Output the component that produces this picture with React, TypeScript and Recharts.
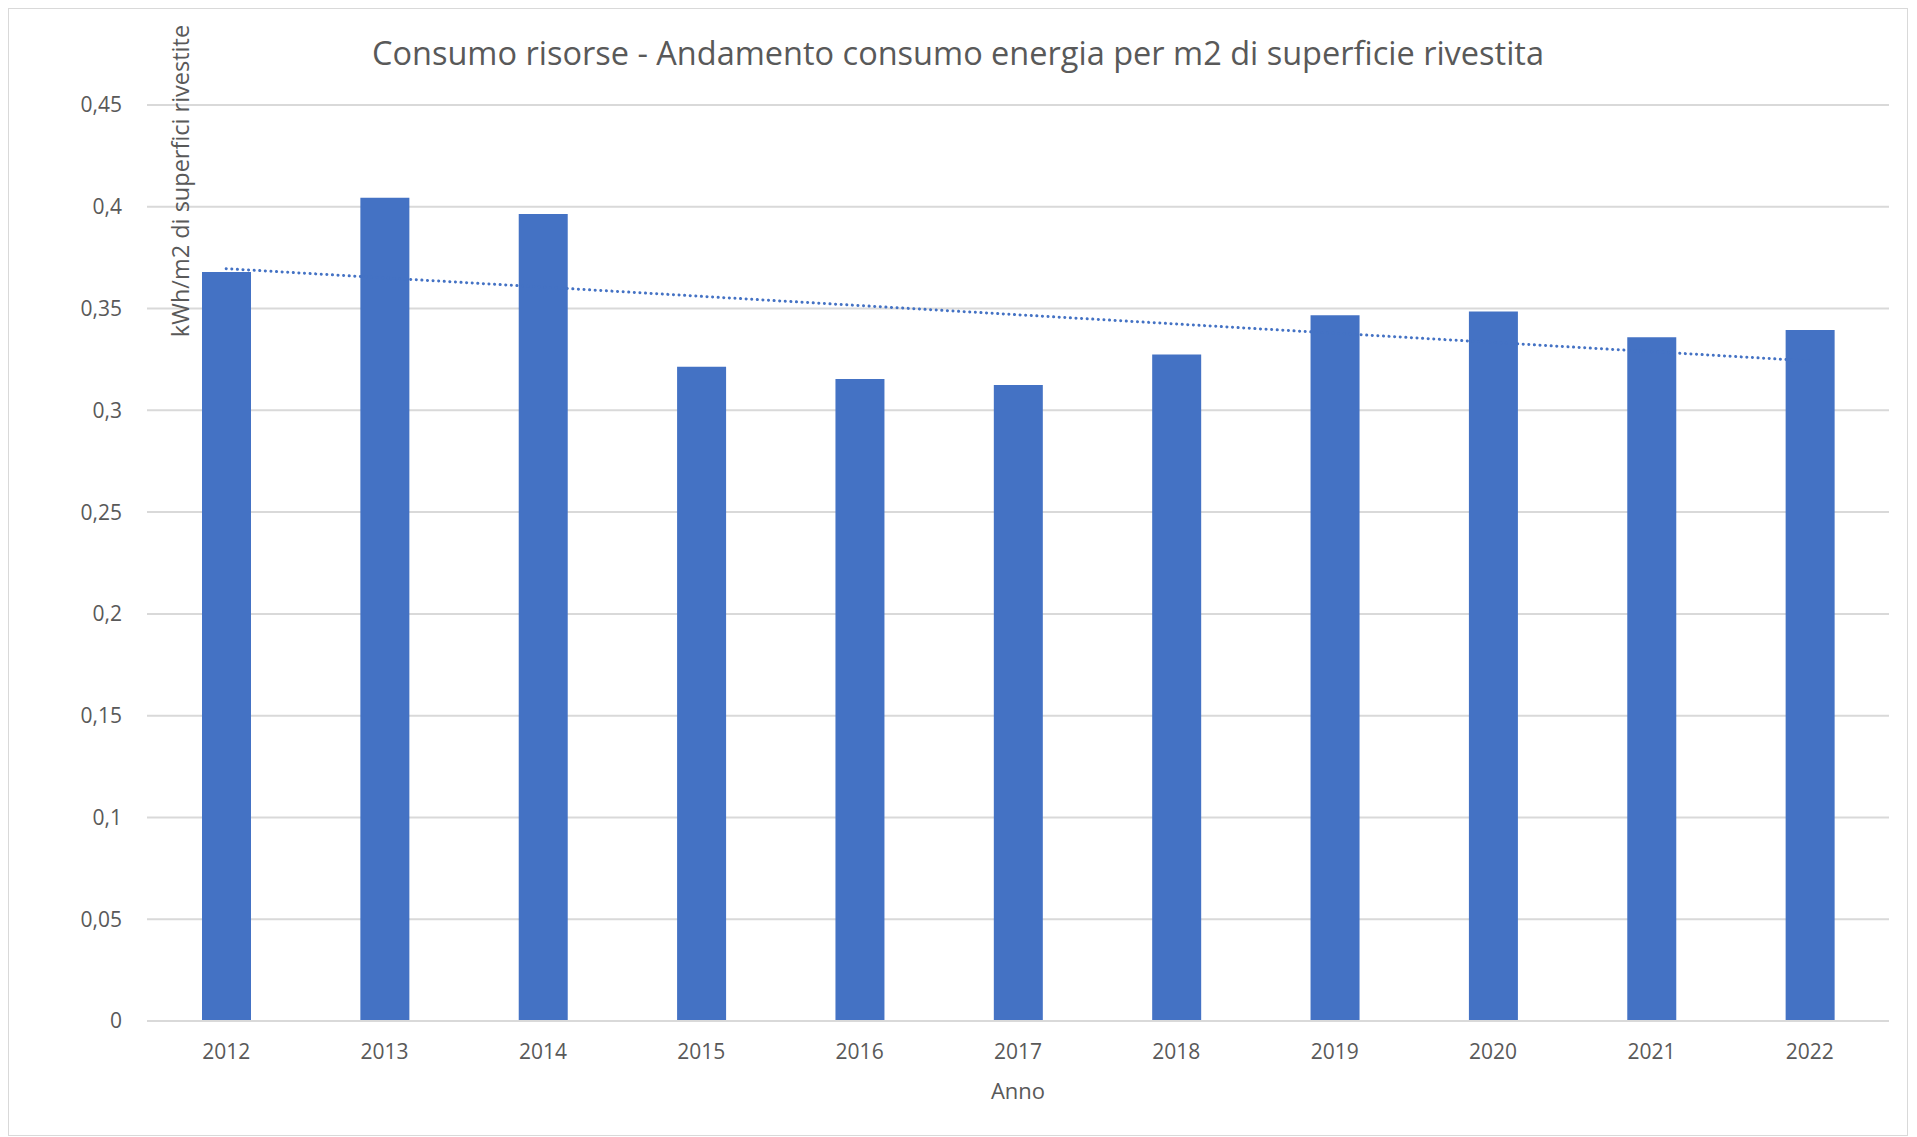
import React from 'react';
import { ComposedChart, Bar, Line, XAxis, YAxis, CartesianGrid } from 'recharts';

const YEARS = ['2012', '2013', '2014', '2015', '2016', '2017', '2018', '2019', '2020', '2021', '2022'];
const ENERGY_PER_M2 = [0.368, 0.4044, 0.3965, 0.3214, 0.3154, 0.3124, 0.3274, 0.3467, 0.3485, 0.3359, 0.3395];
// linear trendline, read at both ends
const TREND = [0.3696, null, null, null, null, null, null, null, null, null, 0.3243];
const Y_TICKS = [0, 0.05, 0.1, 0.15, 0.2, 0.25, 0.3, 0.35, 0.4, 0.45];

const BLUE = '#4472C4';
const GREY_TEXT = '#595959';
const GRID = '#d9d9d9';
const FONT = '"Open Sans", sans-serif';

const data = YEARS.map((year, i) => ({ year, value: ENERGY_PER_M2[i], trend: TREND[i] }));

const fmt = (v: number) => String(v).replace('.', ',');

const YLabel = (props: any) => {
  const { viewBox } = props;
  const x = viewBox.x + viewBox.width + 33;
  const y = viewBox.y + 76;
  return (
    <text
      x={x}
      y={y}
      transform={`rotate(-90, ${x}, ${y})`}
      textAnchor="middle"
      dominantBaseline="central"
      fill={GREY_TEXT}
      fontSize={23.5}
      fontFamily={FONT}
    >
      kWh/m2 di superfici rivestite
    </text>
  );
};

const App: React.FC = () => {
  return (
    <div
      style={{
        position: 'relative',
        width: 1898,
        height: 1126,
        border: `1px solid ${GRID}`,
        background: '#fff',
        fontFamily: FONT,
      }}
    >
      <div
        style={{
          position: 'absolute',
          top: 22,
          left: 0,
          width: '100%',
          textAlign: 'center',
          fontSize: 32.5,
          color: GREY_TEXT,
          lineHeight: '44px',
        }}
      >
        Consumo risorse - Andamento consumo energia per m2 di superficie rivestita
      </div>
      <ComposedChart width={1898} height={1126} data={data} margin={{ top: 96, right: 18, bottom: 0, left: 0 }}>
        <CartesianGrid vertical={false} stroke={GRID} strokeWidth={2} />
        <XAxis
          dataKey="year"
          height={114}
          tickSize={0}
          tickMargin={23}
          axisLine={{ stroke: GRID, strokeWidth: 2 }}
          tickLine={false}
          tick={{ fill: GREY_TEXT, fontSize: 21, fontFamily: FONT }}
          label={{ value: 'Anno', position: 'insideBottom', offset: 36, fill: GREY_TEXT, fontSize: 22, fontFamily: FONT }}
        />
        <YAxis
          width={138}
          domain={[0, 0.45]}
          ticks={Y_TICKS}
          tickFormatter={fmt}
          tickSize={0}
          tickMargin={25}
          axisLine={false}
          tickLine={false}
          tick={{ fill: GREY_TEXT, fontSize: 21, fontFamily: FONT }}
          label={<YLabel />}
        />
        <Bar dataKey="value" fill={BLUE} barSize={49} isAnimationActive={false} />
        <Line
          dataKey="trend"
          stroke={BLUE}
          strokeWidth={3}
          strokeDasharray="0.1 5.5"
          strokeLinecap="round"
          dot={false}
          connectNulls
          isAnimationActive={false}
        />
      </ComposedChart>
    </div>
  );
};

export default App;
